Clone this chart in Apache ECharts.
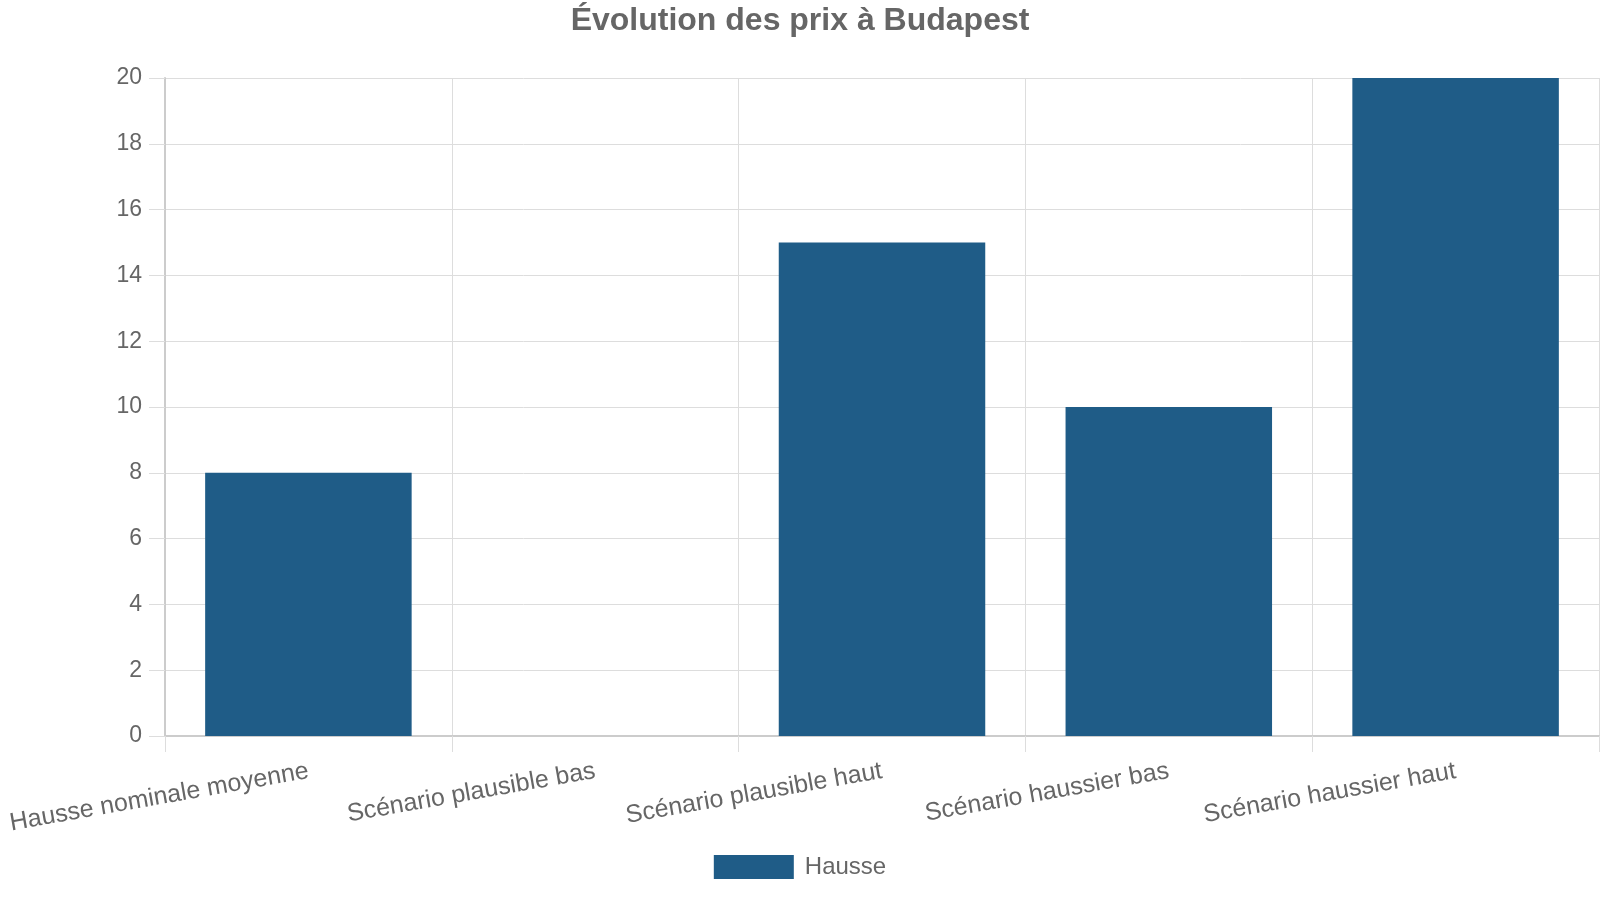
<!DOCTYPE html>
<html>
<head>
<meta charset="utf-8">
<script src="https://cdn.jsdelivr.net/npm/echarts@6/dist/echarts.min.js"></script>
<style>
  html, body { margin: 0; padding: 0; background: #fff; }
  #chart { width: 1600px; height: 900px; }
</style>
</head>
<body>
<div id="chart"></div>
<script>
const categories = ['Hausse nominale moyenne', 'Scénario plausible bas', 'Scénario plausible haut', 'Scénario haussier bas', 'Scénario haussier haut'];
const hausse = [8, 0, 15, 10, 20];
const seriesName = 'Hausse';

const font = '"Liberation Sans", Arial, sans-serif';
const myChart = echarts.init(document.getElementById('chart'));
myChart.setOption({
    animation: false,
    textStyle: {fontFamily: font},
    title: {
        text: 'Évolution des prix à Budapest',
        left: 'center',
        top: 0,
        textStyle: {color: '#666', fontSize: 32, fontWeight: 'bold', fontFamily: font}
    },
    grid: {
        left: 165,
        right: 1,
        top: 78,
        bottom: 164
    },
    legend: {
        data: [seriesName],
        bottom: 16,
        left: 'center',
        icon: 'rect',
        itemWidth: 80,
        itemHeight: 24,
        itemGap: 10,
        textStyle: {color: '#666', fontSize: 24, fontFamily: font, padding: [0, 0, 0, 6]}
    },
    xAxis: {
        type: 'category',
        data: categories,
        axisLine: {show: true, lineStyle: {color: '#ccc', width: 2}},
        axisTick: {show: true, length: 16, lineStyle: {color: '#ddd', width: 1}},
        splitLine: {show: true, lineStyle: {color: '#ddd', width: 1}},
        axisLabel: {
            rotate: 10,
            margin: 35,
            color: '#666',
            fontSize: 25,
            fontFamily: font,
            interval: 0
        }
    },
    yAxis: {
        type: 'value',
        min: 0,
        max: 20,
        interval: 2,
        axisLine: {show: true, lineStyle: {color: '#ccc', width: 2}},
        axisTick: {show: true, length: 16, lineStyle: {color: '#ddd', width: 1}},
        splitLine: {show: true, lineStyle: {color: '#ddd', width: 1}},
        axisLabel: {
            margin: 23,
            color: '#666',
            fontSize: 23,
            fontFamily: font
        }
    },
    series: [
        {
            name: seriesName,
            type: 'bar',
            data: hausse,
            barCategoryGap: '28%',
            itemStyle: {color: '#1f5c87'}
        }
    ]
});
</script>
</body>
</html>
